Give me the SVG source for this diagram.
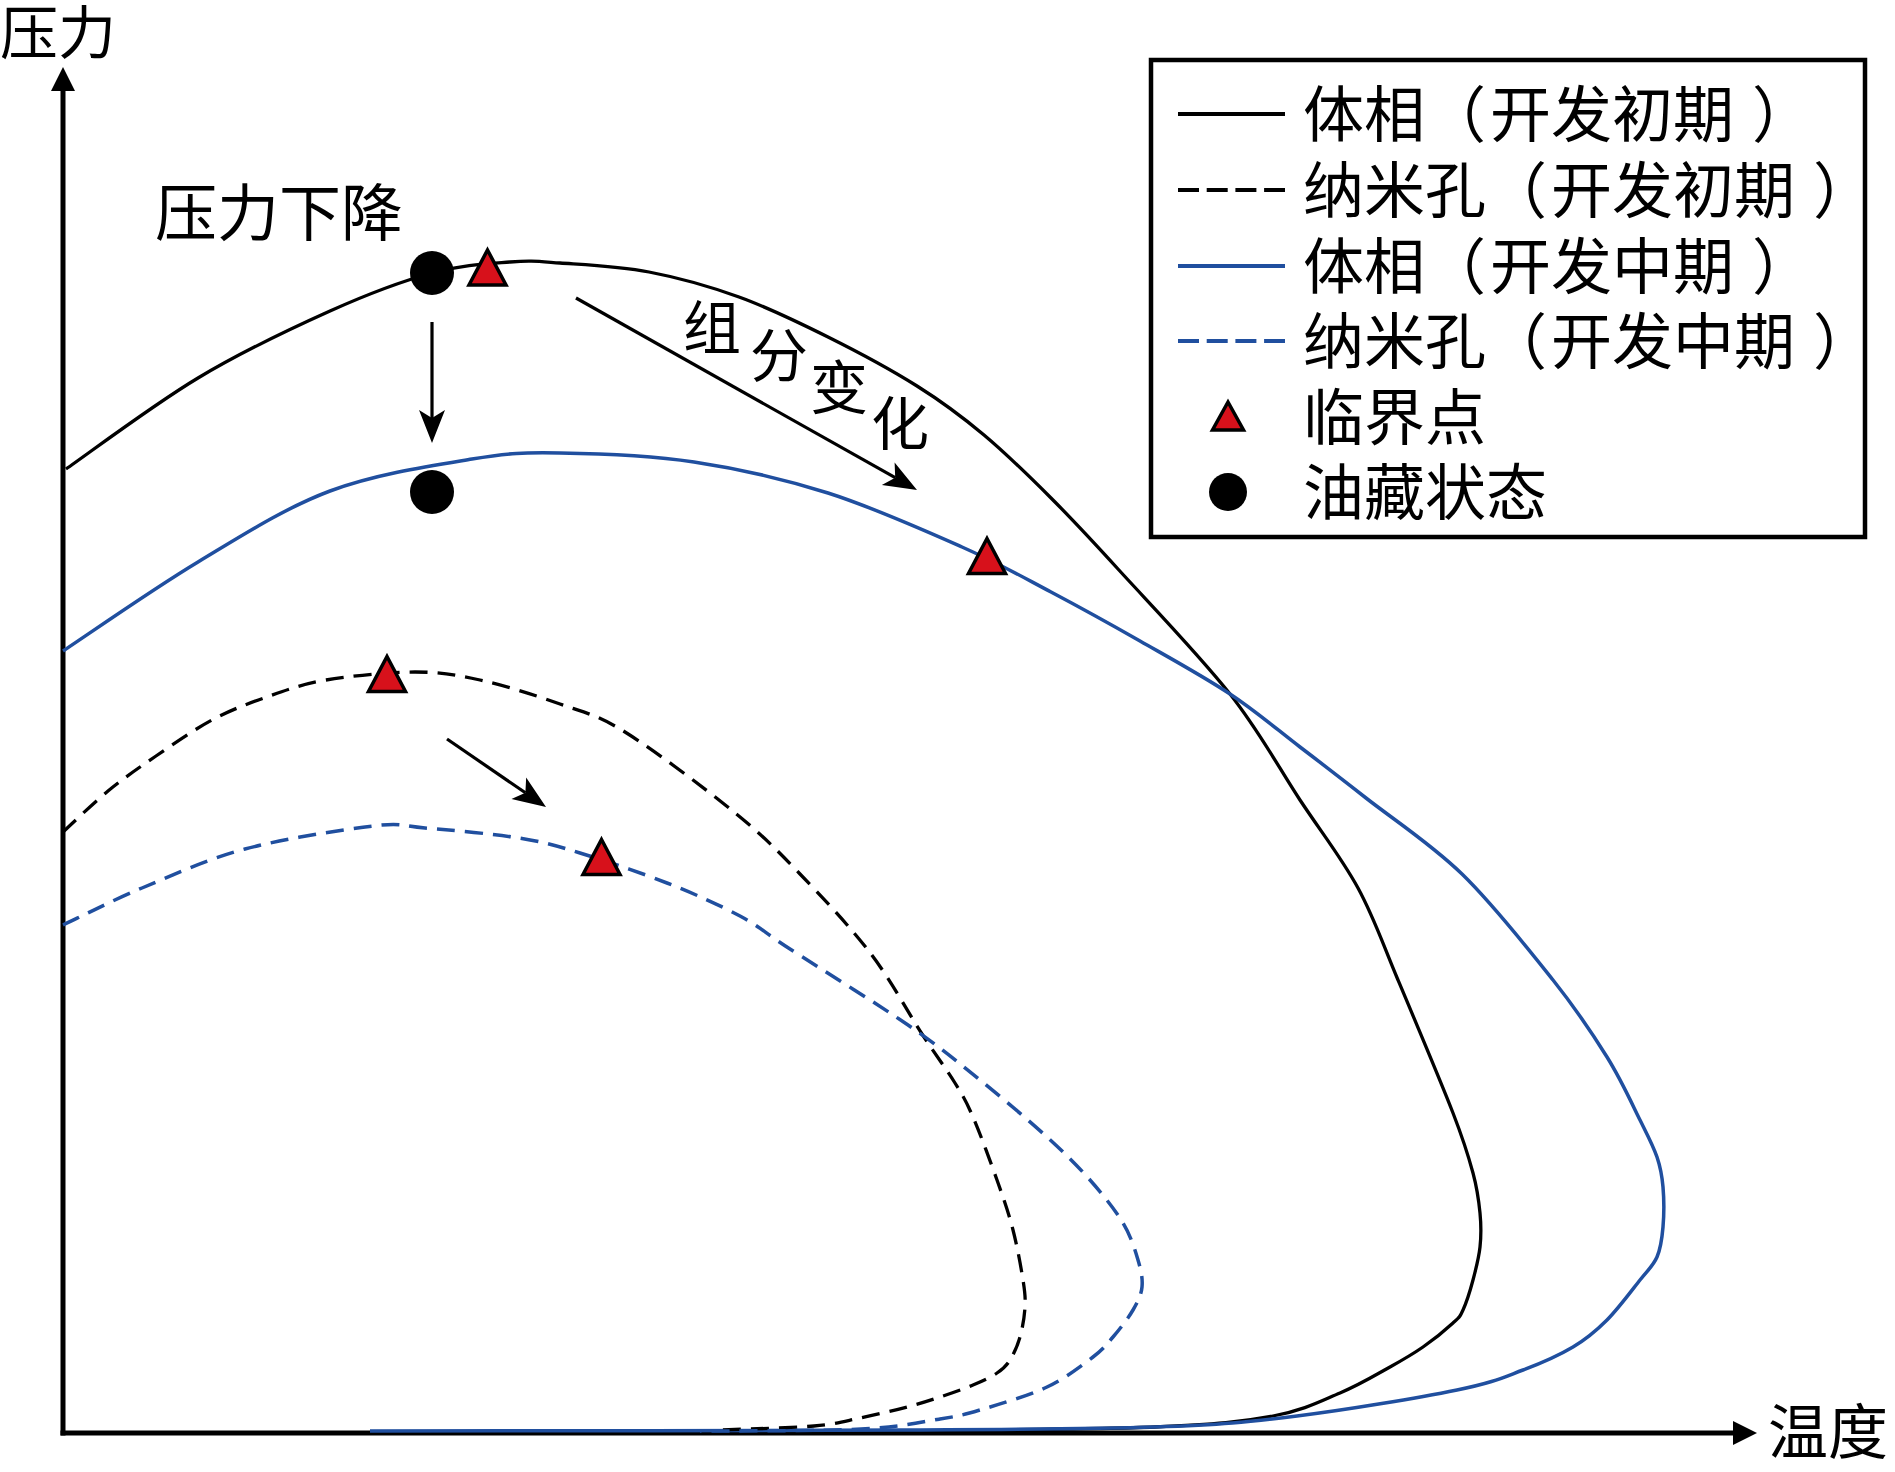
<svg xmlns="http://www.w3.org/2000/svg" width="1895" height="1472" viewBox="0 0 1895 1472">
<style>
.txt{font-family:"Liberation Serif","Noto Sans CJK SC",serif;fill:#000}
.blk{fill:none;stroke:#000;stroke-width:3.3}
.blu{fill:none;stroke:#204f9f;stroke-width:3.5}
.dash{stroke-dasharray:18 10}
.axis{fill:none;stroke:#000;stroke-width:5}
.arr{fill:none;stroke:#000;stroke-width:3.2}
.tri{fill:#d7111b;stroke:#000;stroke-width:3.5;stroke-linejoin:miter}
.dot{fill:#000}
</style>
<defs>
<marker id="axhead" markerUnits="userSpaceOnUse" markerWidth="30" markerHeight="30" refX="0" refY="0" orient="auto" overflow="visible">
<path d="M0,-12 L24,0 L0,12 Z" fill="#000"/>
</marker>
<marker id="head" markerUnits="userSpaceOnUse" markerWidth="40" markerHeight="30" refX="8" refY="0" orient="auto" overflow="visible">
<path d="M0,-13 L33,0 L0,13 L8,0 Z" fill="#000"/>
</marker>
<path id="tri" d="M0,-17.5 L18.5,17.5 L-18.5,17.5 Z"/>
<path id="trism" d="M0,-14 L15.5,14 L-15.5,14 Z"/>
</defs>
<rect width="1895" height="1472" fill="#fff"/>

<g id="axes">
<line class="axis" x1="63" y1="1435.5" x2="63" y2="91" marker-end="url(#axhead)"/>
<line class="axis" x1="60.5" y1="1433" x2="1733" y2="1433" marker-end="url(#axhead)"/>
<text class="txt" x="0" y="54" font-size="58">压力</text>
<text class="txt" x="1768" y="1454" font-size="60">温度</text>
</g>

<g id="curve-bulk-early">
<path class="blk" d="M66,469 C88,453.8 154,404.3 198,378 C242,351.7 291,328.5 330,311 C369,293.5 402,281.2 432,273 C462,264.8 488.7,263.7 510,262 C531.3,260.3 536.8,261.3 560,263 C583.2,264.7 619.2,266.3 649,272 C678.8,277.7 709.2,286.2 739,297 C768.8,307.8 798.3,322.2 828,337 C857.7,351.8 891,369.7 917,386 C943,402.3 961.7,416.3 984,435 C1006.3,453.7 1028.7,475.7 1051,498 C1073.3,520.3 1088.2,536.3 1118,569 C1147.8,601.7 1199.7,655.5 1230,694 C1260.3,732.5 1278.7,767.7 1300,800 C1321.3,832.3 1341.7,858 1358,888 C1374.3,918 1382.2,942.5 1398,980 C1413.8,1017.5 1440.5,1080.8 1453,1113 C1465.5,1145.2 1468.5,1156.3 1473,1173 C1477.5,1189.7 1478.8,1200.7 1480,1213 C1481.2,1225.3 1481.2,1235.8 1480,1247 C1478.8,1258.2 1475.8,1269.5 1473,1280 C1470.2,1290.5 1466.3,1302.8 1463,1310 C1459.7,1317.2 1459.7,1316.8 1453,1323 C1446.3,1329.2 1433.5,1339.7 1423,1347 C1412.5,1354.3 1403.8,1359.3 1390,1367 C1376.2,1374.7 1359.5,1384.8 1340,1393 C1320.5,1401.2 1303.8,1410.3 1273,1416 C1242.2,1421.7 1217.2,1424.5 1155,1427 C1092.8,1429.5 942.5,1430.3 900,1431"/>
</g>

<g id="curve-bulk-mid">
<path class="blu" d="M63,651 C85.5,636.2 153.5,588.7 198,562 C242.5,535.3 284.3,508.2 330,491 C375.7,473.8 433.7,465.3 472,459 C510.3,452.7 523,452.5 560,453 C597,453.5 649.3,455.3 694,462 C738.7,468.7 783.3,478.8 828,493 C872.7,507.2 924.8,530.5 962,547 C999.2,563.5 1021.3,576.3 1051,592 C1080.7,607.7 1110.2,624 1140,641 C1169.8,658 1203.3,676.3 1230,694 C1256.7,711.7 1277.3,729.7 1300,747 C1322.7,764.3 1339,776.8 1366,798 C1393,819.2 1430.8,843.7 1462,874 C1493.2,904.3 1528.8,949.5 1553,980 C1577.2,1010.5 1592.5,1033.7 1607,1057 C1621.5,1080.3 1631.7,1103.3 1640,1120 C1648.3,1136.7 1653.2,1145.8 1657,1157 C1660.8,1168.2 1662,1175.3 1663,1187 C1664,1198.7 1664,1215.3 1663,1227 C1662,1238.7 1660.8,1248.2 1657,1257 C1653.2,1265.8 1648.3,1269.5 1640,1280 C1631.7,1290.5 1618.2,1308.8 1607,1320 C1595.8,1331.2 1587,1338.7 1573,1347 C1559,1355.3 1542.3,1362.8 1523,1370 C1503.7,1377.2 1494.7,1382.3 1457,1390 C1419.3,1397.7 1347.3,1409.8 1297,1416 C1247.7,1422.2 1221.2,1424.7 1155,1427 C1088.8,1429.3 1030.8,1429.3 900,1430 C769.2,1430.7 458.3,1431 370,1431"/>
</g>

<g id="curve-nano-early">
<path class="blk dash" d="M63,832 C70.5,825.2 92.5,803.7 108,791 C123.5,778.3 138.7,767.8 156,756 C173.3,744.2 194,729.7 212,720 C230,710.3 245,704.7 264,698 C283,691.3 300.8,684.3 326,680 C351.2,675.7 389.3,672 415,672 C440.7,672 455.8,674.7 480,680 C504.2,685.3 535.8,695.3 560,704 C584.2,712.7 596,714 625,732 C654,750 704.8,788.3 734,812 C763.2,835.7 777.2,850.3 800,874 C822.8,897.7 850.7,927.3 871,954 C891.3,980.7 908,1012.5 922,1034 C936,1055.5 946.5,1069.2 955,1083 C963.5,1096.8 966,1100.8 973,1117 C980,1133.2 990.3,1161.2 997,1180 C1003.7,1198.8 1008.7,1213.3 1013,1230 C1017.3,1246.7 1021,1267.2 1023,1280 C1025,1292.8 1025.5,1297.5 1025,1307 C1024.5,1316.5 1022.5,1328.2 1020,1337 C1017.5,1345.8 1013.8,1354 1010,1360 C1006.2,1366 1003.2,1368.8 997,1373 C990.8,1377.2 982.5,1381 973,1385 C963.5,1389 951,1393.3 940,1397 C929,1400.7 920.3,1403.5 907,1407 C893.7,1410.5 875.5,1414.8 860,1418 C844.5,1421.2 837.3,1424 814,1426 C790.7,1428 735.7,1429.3 720,1430"/>
</g>

<g id="curve-nano-mid">
<path class="blu dash" d="M63,925 C76.2,918.8 111.7,900.7 142,888 C172.3,875.3 206.5,859.3 245,849 C283.5,838.7 343,829.5 373,826 C403,822.5 400.7,826 425,828 C449.3,830 493.2,833.8 519,838 C544.8,842.2 555.3,845.5 580,853 C604.7,860.5 640.3,872.5 667,883 C693.7,893.5 719.5,905 740,916 C760.5,927 762,930.8 790,949 C818,967.2 876.3,1003.2 908,1025 C939.7,1046.8 956.8,1061.3 980,1080 C1003.2,1098.7 1028.7,1120.3 1047,1137 C1065.3,1153.7 1077.3,1165.7 1090,1180 C1102.7,1194.3 1115,1209.7 1123,1223 C1131,1236.3 1134.8,1249.3 1138,1260 C1141.2,1270.7 1142.8,1278.7 1142,1287 C1141.2,1295.3 1137.8,1301.7 1133,1310 C1128.2,1318.3 1119.7,1329.2 1113,1337 C1106.3,1344.8 1104,1348.7 1093,1357 C1082,1365.3 1065.8,1378.2 1047,1387 C1028.2,1395.8 997.8,1404.7 980,1410 C962.2,1415.3 959.8,1415.8 940,1419 C920.2,1422.2 901,1427 861,1429 C821,1431 726.8,1431 700,1431"/>
</g>

<g id="connectors">
<line class="arr" x1="432" y1="322" x2="432" y2="418" marker-end="url(#head)"/>
<line class="arr" x1="576" y1="298" x2="895.2" y2="477.7" marker-end="url(#head)"/>
<line class="arr" x1="447" y1="739" x2="525.4" y2="792.8" marker-end="url(#head)"/>
</g>

<g id="state-points">
<circle class="dot" cx="432" cy="273" r="22"/>
<circle class="dot" cx="432" cy="492" r="22"/>
</g>

<g id="critical-points">
<use href="#tri" class="tri" x="487.5" y="267.5"/>
<use href="#tri" class="tri" x="987" y="556"/>
<use href="#tri" class="tri" x="387" y="674"/>
<use href="#tri" class="tri" x="601.5" y="857"/>
</g>

<g id="label-pressure-drop">
<text class="txt" x="155" y="236" font-size="62">压力下降</text>
</g>

<g id="label-composition">
<text class="txt" font-size="58" text-anchor="middle" x="712" y="349">组</text>
<text class="txt" font-size="58" text-anchor="middle" x="779" y="377">分</text>
<text class="txt" font-size="58" text-anchor="middle" x="839" y="409">变</text>
<text class="txt" font-size="58" text-anchor="middle" x="900" y="445">化</text>
</g>

<g id="legend">
<rect x="1151" y="60" width="714" height="477" fill="#fff" stroke="#000" stroke-width="4.5"/>
<line x1="1178" y1="114" x2="1285" y2="114" stroke="#000" stroke-width="4"/>
<line x1="1178" y1="190" x2="1285" y2="190" stroke="#000" stroke-width="4" stroke-dasharray="21 7.7"/>
<line x1="1178" y1="266" x2="1285" y2="266" stroke="#204f9f" stroke-width="4"/>
<line x1="1178" y1="341" x2="1285" y2="341" stroke="#204f9f" stroke-width="4" stroke-dasharray="21 7.7"/>
<use href="#trism" class="tri" x="1228" y="416"/>
<circle class="dot" cx="1228" cy="492" r="19"/>
<text class="txt" font-size="61" x="1303" y="137">体相（<tspan dx="4">开发初期</tspan><tspan dx="18">）</tspan></text>
<text class="txt" font-size="61" x="1303" y="213">纳米孔（<tspan dx="4">开发初期</tspan><tspan dx="18">）</tspan></text>
<text class="txt" font-size="61" x="1303" y="289">体相（<tspan dx="4">开发中期</tspan><tspan dx="18">）</tspan></text>
<text class="txt" font-size="61" x="1303" y="364">纳米孔（<tspan dx="4">开发中期</tspan><tspan dx="18">）</tspan></text>
<text class="txt" font-size="61" x="1303" y="440">临界点</text>
<text class="txt" font-size="61" x="1303" y="515">油藏状态</text>
</g>
</svg>
